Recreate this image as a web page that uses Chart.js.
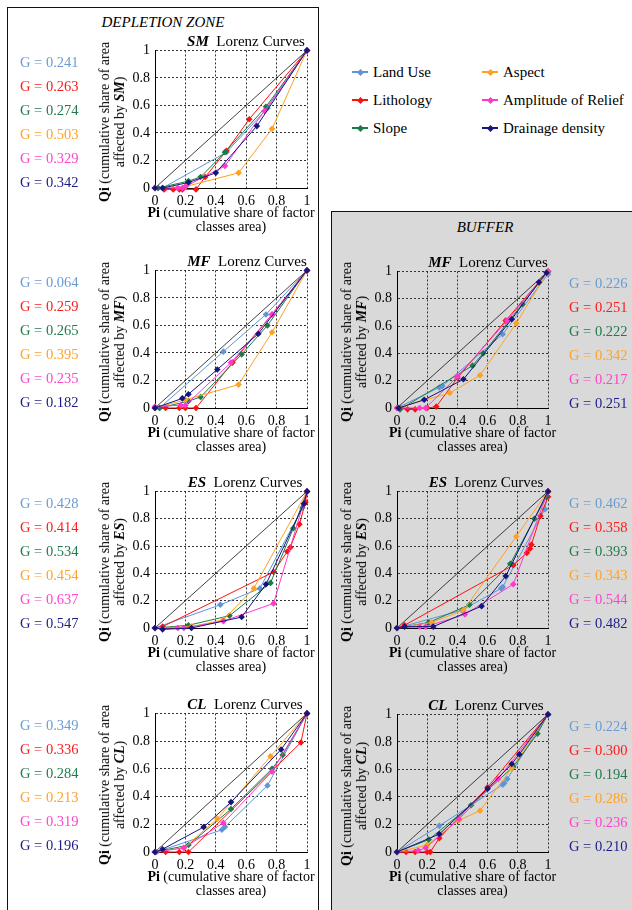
<!DOCTYPE html>
<html><head><meta charset="utf-8">
<script src="https://cdn.jsdelivr.net/npm/chart.js@4.4.1/dist/chart.umd.min.js"></script>
<style>
html,body{margin:0;padding:0;background:#fff;}
body{width:632px;height:910px;position:relative;overflow:hidden;font-family:'Liberation Serif','Times New Roman',serif;color:#000;}
.abs{position:absolute;white-space:nowrap;}
.ctr{transform:translate(-50%,-50%);}
.g{font-size:14.5px;line-height:15px;transform:translate(0,-50%);}
#panelL{position:absolute;left:7px;top:7px;width:312px;height:940px;border:1.5px solid #111;box-sizing:border-box;}
#panelR{position:absolute;left:331px;top:211px;width:320px;height:740px;border:1.5px solid #111;background:#d9d9d9;box-sizing:border-box;}
canvas{position:absolute;}
.ytitle{font-size:14px;line-height:15px;text-align:center;transform:translate(-50%,-50%) rotate(-90deg);}
.xtitle{font-size:14px;line-height:14px;text-align:center;transform:translate(-50%,0);}
.ctitle{font-size:15px;line-height:15px;}
.ptitle{font-size:15px;font-style:italic;}
.leg{font-size:15px;line-height:15px;transform:translate(0,-50%);}
.legline{position:absolute;width:16px;height:1.5px;}
.legdot{position:absolute;width:5px;height:5px;transform:rotate(45deg);}
</style>
</head>
<body>
<div id="panelL"></div>
<div id="panelR"></div>
<script>
// ---------- data ----------
const seriesNames = ['Land Use','Lithology','Slope','Aspect','Amplitude of Relief','Drainage density'];
const axisTicks = [0, 0.2, 0.4, 0.6, 0.8, 1];

// Depletion zone – each entry: [Pi, Qi] points per factor (order as seriesNames)
const depSM = [
  [[0,0],[0.02,0],[0.05,0],[0.47,0.26],[0.74,0.58],[1,1]],
  [[0,0],[0.06,-0.01],[0.12,-0.01],[0.16,-0.01],[0.18,-0.01],[0.27,-0.01],[0.33,0.08],[0.47,0.27],[0.62,0.5],[1,1]],
  [[0,0],[0.02,0],[0.22,0.05],[0.3,0.08],[0.46,0.26],[0.73,0.59],[1,1]],
  [[0,0],[0.2,0.01],[0.55,0.11],[0.77,0.43],[1,1]],
  [[0,0],[0.15,0],[0.18,0],[0.2,0.01],[0.46,0.16],[0.72,0.56],[1,1]],
  [[0,0],[0.05,0],[0.22,0.04],[0.4,0.11],[0.67,0.45],[1,1]]
];
const depSM_G = [0.241, 0.263, 0.274, 0.503, 0.329, 0.342];

const depMF = [
  [[0,0],[0.03,0],[0.45,0.41],[0.73,0.68],[1,1]],
  [[0,0],[0.07,0],[0.16,0],[0.2,0],[0.27,0],[0.51,0.33],[0.77,0.68],[1,1]],
  [[0,0],[0.03,0],[0.22,0.05],[0.3,0.08],[0.57,0.39],[0.74,0.6],[1,1]],
  [[0,0],[0.2,0.06],[0.55,0.17],[0.77,0.55],[1,1]],
  [[0,0.01],[0.17,0.02],[0.2,0.02],[0.5,0.33],[0.77,0.68],[1,1]],
  [[0,0],[0.18,0.07],[0.22,0.1],[0.41,0.28],[0.68,0.54],[1,1]]
];
const depMF_G = [0.064, 0.259, 0.265, 0.395, 0.235, 0.182];

const depES = [
  [[0,0],[0.43,0.17],[0.69,0.29],[0.97,0.88],[0.98,0.91],[1,1]],
  [[0,0],[0.05,0.01],[0.78,0.41],[0.87,0.56],[0.89,0.59],[0.95,0.76],[0.99,0.92],[1,1]],
  [[0,0],[0.22,0.02],[0.49,0.09],[0.76,0.33],[0.91,0.73],[1,1]],
  [[0,0],[0.24,0.01],[0.45,0.06],[0.65,0.29],[1,1]],
  [[0,0],[0.15,0],[0.19,0],[0.45,0.05],[0.78,0.18],[1,1]],
  [[0,0],[0.05,-0.01],[0.24,0],[0.57,0.08],[0.73,0.32],[0.98,0.91],[1,1]]
];
const depES_G = [0.428, 0.414, 0.534, 0.454, 0.637, 0.547];

const depCL = [
  [[0,0],[0.01,0],[0.44,0.16],[0.46,0.18],[0.74,0.48],[1,1]],
  [[0,0],[0.07,0],[0.16,0],[0.22,0],[0.96,0.79],[1,1]],
  [[0,0],[0.22,0.05],[0.5,0.31],[0.77,0.6],[0.84,0.7],[1,1]],
  [[0,0],[0.19,0.03],[0.41,0.24],[0.76,0.69],[1,1]],
  [[0,0],[0.19,0.03],[0.45,0.21],[0.77,0.58],[1,1]],
  [[0,0],[0.05,0.02],[0.32,0.18],[0.5,0.36],[0.83,0.74],[1,1]]
];
const depCL_G = [0.349, 0.336, 0.284, 0.213, 0.319, 0.196];

// Buffer
const bufMF = [
  [[0,0],[0.28,0.15],[0.3,0.16],[0.7,0.54],[1,0.98],[1,1]],
  [[0.02,0],[0.07,-0.01],[0.12,-0.01],[0.2,0],[0.26,0.01],[0.4,0.22],[0.72,0.64],[1,1]],
  [[0.02,-0.01],[0.5,0.31],[0.57,0.4],[0.83,0.76],[1,1]],
  [[0,0],[0.35,0.11],[0.55,0.24],[0.79,0.62],[1,1]],
  [[0,0],[0.15,0],[0.19,0],[0.4,0.23],[0.73,0.64],[1,1]],
  [[0.01,0],[0.18,0.06],[0.44,0.21],[0.76,0.65],[0.94,0.92],[0.99,0.99]]
];
const bufMF_G = [0.226, 0.251, 0.222, 0.342, 0.217, 0.251];

const bufES = [
  [[0,0],[0.43,0.13],[0.69,0.29],[0.7,0.3],[0.98,0.87],[1,1]],
  [[0,0],[0.05,0.02],[0.77,0.46],[0.86,0.55],[0.88,0.58],[0.89,0.61],[0.95,0.82],[1,0.96],[1,1]],
  [[0,0],[0.21,0.04],[0.48,0.17],[0.75,0.47],[0.91,0.8],[0.99,0.96],[1,1]],
  [[0,0],[0.23,0.04],[0.44,0.13],[0.79,0.67],[1,1]],
  [[0,0],[0.15,0.01],[0.19,0.01],[0.45,0.1],[0.77,0.32],[1,1]],
  [[0,0],[0.05,0.01],[0.24,0.01],[0.56,0.16],[0.72,0.38],[1,1]]
];
const bufES_G = [0.462, 0.358, 0.393, 0.343, 0.544, 0.482];

const bufCL = [
  [[0,0],[0.28,0.19],[0.7,0.49],[0.71,0.5],[0.73,0.53],[1,1]],
  [[0,0],[0.06,0],[0.12,0],[0.2,0],[0.22,0],[0.28,0.1],[0.6,0.47],[1,1]],
  [[0,0],[0.21,0.09],[0.49,0.34],[0.77,0.62],[0.93,0.86],[1,1]],
  [[0,0],[0.2,0.05],[0.41,0.23],[0.55,0.3],[0.76,0.61],[1,1]],
  [[0,0],[0.14,0.01],[0.19,0.03],[0.41,0.24],[0.67,0.53],[1,1]],
  [[0,0],[0.28,0.13],[0.6,0.46],[0.76,0.64],[0.81,0.71],[1,1]]
];
const bufCL_G = [0.224, 0.300, 0.194, 0.286, 0.236, 0.210];

const equalityLine = [[0,0],[1,1]];

// ---------- styles ----------
const lineColors = ['#5f95d6','#ff1010','#1b7a48','#ffa020','#ff38cc','#15157f'];
const textColors = ['#6a9bd4','#ff1a1a','#227a4c','#ffa22a','#ff44cc','#1c1c88'];
const FONT = "'Liberation Serif','Times New Roman',serif";

function el(html, cls, left, top, extraStyle) {
  const d = document.createElement('div');
  d.className = 'abs ' + cls;
  d.style.left = left + 'px';
  d.style.top = top + 'px';
  if (extraStyle) d.style.cssText += extraStyle;
  d.innerHTML = html;
  document.body.appendChild(d);
  return d;
}

function addChart(series, gVals, name, plotLeft, plotTop, w, h, gX, titleX) {
  const padL = 60, padT = 12, padR = 14, padB = 28;
  const cv = document.createElement('canvas');
  const cw = w + padL + padR, ch = h + padT + padB;
  cv.width = cw; cv.height = ch;
  cv.style.width = cw + 'px'; cv.style.height = ch + 'px';
  cv.style.left = (plotLeft - padL) + 'px';
  cv.style.top = (plotTop - padT) + 'px';
  document.body.appendChild(cv);

  const datasets = series.map((pts, i) => ({
    label: seriesNames[i],
    data: pts.map(p => ({x: p[0], y: p[1]})),
    showLine: true,
    borderColor: lineColors[i],
    backgroundColor: lineColors[i],
    borderWidth: 1,
    pointStyle: 'rectRot',
    pointRadius: 3.3,
    pointBorderWidth: 0,
    clip: false,
    order: 5 - i
  }));
  datasets.push({
    label: 'Equality',
    data: equalityLine.map(p => ({x: p[0], y: p[1]})),
    showLine: true, borderColor: '#111', borderWidth: 0.8,
    pointRadius: 0, clip: false, order: 10
  });

  const tickFont = {family: FONT, size: 14};
  const axisCommon = {
    type: 'linear', min: 0, max: 1,
    afterBuildTicks: s => { s.ticks = axisTicks.map(v => ({value: v})); },
    ticks: {font: tickFont, color: '#000', callback: v => String(v)},
    grid: {color: '#333', lineWidth: 1, drawTicks: false},
    border: {color: '#000', width: 1, dash: [2, 2]}
  };
  new Chart(cv, {
    type: 'scatter',
    data: {datasets},
    options: {
      responsive: false, animation: false, devicePixelRatio: 1,
      layout: {padding: {top: padT, right: padR, left: 0, bottom: 0}},
      plugins: {legend: {display: false}, tooltip: {enabled: false}},
      scales: {
        x: Object.assign({}, axisCommon, {
          ticks: Object.assign({}, axisCommon.ticks, {padding: 5, maxRotation: 0}),
          afterFit: s => { s.height = padB; }
        }),
        y: Object.assign({}, axisCommon, {
          ticks: Object.assign({}, axisCommon.ticks, {padding: 5}),
          afterFit: s => { s.width = padL; }
        })
      }
    }
  });

  // titles
  el('<b><i>' + name + '</i></b>&nbsp; Lorenz Curves', 'ctitle ctr', titleX, plotTop - 8);
  el('<b>Qi</b> (cumulative share of area<br>affected by <b><i>' + name + '</i></b>)', 'ytitle',
     plotLeft - 43, plotTop + h / 2 + 3);
  el('<b>Pi</b> (cumulative share of factor<br>classes area)', 'xtitle', plotLeft + w / 2, plotTop + h + 18);
  // Gini labels
  gVals.forEach((g, i) => {
    el('G = ' + g.toFixed(3), 'g', gX, plotTop + 13 + i * 24, 'color:' + textColors[i]);
  });
}

// panel titles
el('DEPLETION ZONE', 'ptitle ctr', 163, 22);
el('BUFFER', 'ptitle ctr', 485, 227);

// legend
const legPos = [[360,72],[360,100],[360,128],[490,72],[490,100],[490,128]];
seriesNames.forEach((n, i) => {
  const [cx, cy] = legPos[i];
  el('', 'legline', cx - 8, cy - 0.75, 'background:' + lineColors[i]);
  el('', 'legdot', cx - 2.5, cy - 2.5, 'background:' + lineColors[i]);
  el(n, 'leg', cx + 13, cy);
});

// charts
addChart(depSM, depSM_G, 'SM', 155, 49, 152, 139, 20, 246);
addChart(depMF, depMF_G, 'MF', 155, 269, 152, 139, 20, 247);
addChart(depES, depES_G, 'ES', 155, 490, 152, 138, 20, 245);
addChart(depCL, depCL_G, 'CL', 155, 712, 152, 140, 20, 245);
addChart(bufMF, bufMF_G, 'MF', 397, 270, 151, 138, 569, 488);
addChart(bufES, bufES_G, 'ES', 397, 490, 151, 138, 569, 486);
addChart(bufCL, bufCL_G, 'CL', 397, 713, 151, 139, 569, 486);
</script>
</body></html>
